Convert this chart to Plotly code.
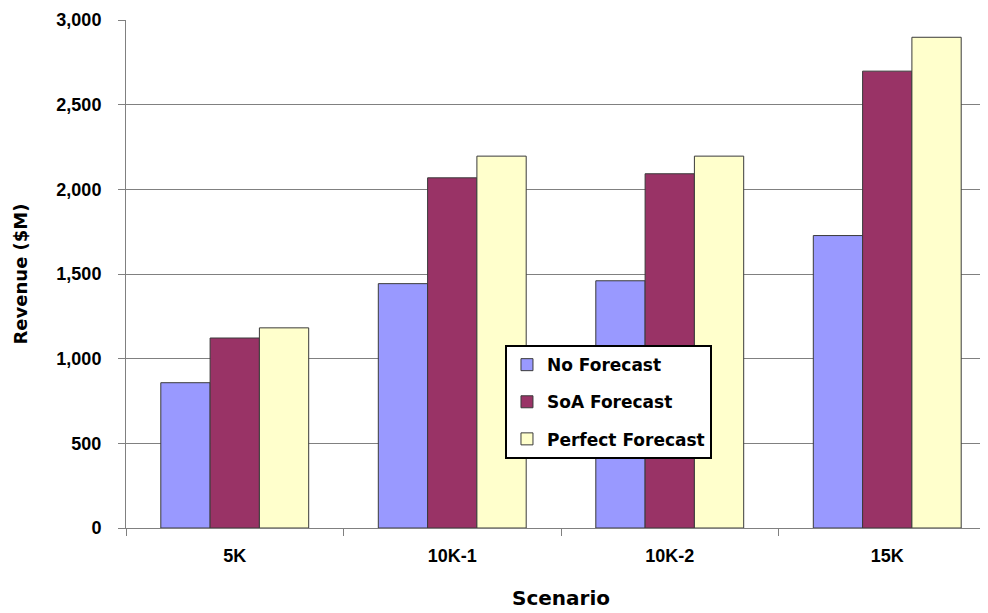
import plotly.graph_objects as go

scenarios = ["5K", "10K-1", "10K-2", "15K"]
no_forecast = [858, 1443, 1460, 1727]
soa_forecast = [1122, 2068, 2092, 2698]
perfect_forecast = [1182, 2196, 2196, 2898]

series = [
    ("No Forecast", no_forecast, "#9999FF"),
    ("SoA Forecast", soa_forecast, "#993366"),
    ("Perfect Forecast", perfect_forecast, "#FFFFCC"),
]

fig = go.Figure()
for name, vals, col in series:
    fig.add_trace(go.Bar(
        x=scenarios, y=vals, name=name, legendgroup=name,
        marker=dict(color=col, line=dict(color="#3a3a3a", width=1)),
    ))

sans = "Liberation Sans, Arial, sans-serif"
wide = "DejaVu Sans, Verdana, sans-serif"
fig.update_layout(
    width=988, height=613,
    margin=dict(l=118, r=0, t=12, b=93),
    plot_bgcolor="white", paper_bgcolor="white",
    barmode="group", bargap=0.32, bargroupgap=0,
    font=dict(family=sans, color="black"),
    showlegend=True,
    legend=dict(
        x=0.4356, y=0.36, xanchor="left", yanchor="top",
        bgcolor="white", bordercolor="black", borderwidth=2,
        font=dict(size=17, weight="bold", family=wide),
        traceorder="grouped", tracegroupgap=12,
    ),
    xaxis=dict(
        range=[-0.5, 3.5],
        tickson="boundaries", ticks="outside", ticklen=7, tickcolor="#808080",
        ticklabelstandoff=11,
        showline=True, linecolor="#808080", linewidth=1,
        tickfont=dict(size=18, weight="bold"),
        title=dict(text="Scenario", font=dict(size=20, weight="bold", family=wide), standoff=26),
        showgrid=False,
    ),
    yaxis=dict(
        range=[0, 3000], tickvals=[0, 500, 1000, 1500, 2000, 2500, 3000],
        tickformat=",", ticks="outside", ticklen=7, tickcolor="#808080",
        ticklabelstandoff=13,
        showline=True, linecolor="#808080", linewidth=1,
        showgrid=True, gridcolor="#808080", gridwidth=1,
        tickfont=dict(size=18, weight="bold"),
        title=dict(text="Revenue ($M)", font=dict(size=18, weight="bold", family=wide), standoff=24),
        zeroline=False,
    ),
)

fig.write_html("out.html")
